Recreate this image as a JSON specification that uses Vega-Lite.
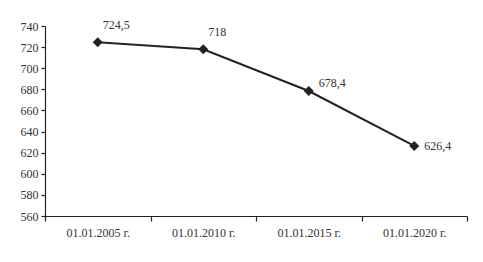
{
  "$schema": "https://vega.github.io/schema/vega-lite/v6.json",
  "width": 422,
  "height": 190,
  "autosize": {"type": "none"},
  "padding": {"left": 45, "top": 26, "right": 16, "bottom": 46},
  "background": "white",
  "config": {
    "view": {"stroke": null},
    "font": "Liberation Serif",
    "axis": {"grid": false, "domainColor": "#222", "tickColor": "#222", "labelColor": "#333", "labelFont": "Liberation Serif", "labelFontSize": 12, "domainWidth": 1.2, "tickWidth": 1.2}
  },
  "data": {
    "values": [
      {"date": "01.01.2005 г.", "value": 724.5, "label": "724,5"},
      {"date": "01.01.2010 г.", "value": 718, "label": "718"},
      {"date": "01.01.2015 г.", "value": 678.4, "label": "678,4"},
      {"date": "01.01.2020 г.", "value": 626.4, "label": "626,4"}
    ]
  },
  "encoding": {
    "x": {"field": "date", "type": "ordinal", "sort": null,
      "scale": {"paddingInner": 0, "paddingOuter": 0},
      "axis": {"title": null, "labelAngle": 0, "tickBand": "extent", "tickSize": 5, "labelPadding": 6}},
    "y": {"field": "value", "type": "quantitative",
      "scale": {"domain": [560, 740], "nice": false, "zero": false},
      "axis": {"title": null, "values": [560,580,600,620,640,660,680,700,720,740], "tickSize": 4, "labelPadding": 3}}
  },
  "layer": [
    {"mark": {"type": "line", "color": "#222", "strokeWidth": 2}},
    {"mark": {"type": "point", "shape": "diamond", "filled": true, "color": "#222", "size": 100, "opacity": 1}},
    {"transform": [{"filter": "datum.value > 700"}],
     "mark": {"type": "text", "align": "left", "baseline": "middle", "dx": 5, "dy": -17, "fontSize": 12, "color": "#333"},
     "encoding": {"text": {"field": "label"}}},
    {"transform": [{"filter": "datum.value > 650 && datum.value < 700"}],
     "mark": {"type": "text", "align": "left", "baseline": "middle", "dx": 10, "dy": -8, "fontSize": 12, "color": "#333"},
     "encoding": {"text": {"field": "label"}}},
    {"transform": [{"filter": "datum.value < 650"}],
     "mark": {"type": "text", "align": "left", "baseline": "middle", "dx": 10, "dy": 0, "fontSize": 12, "color": "#333"},
     "encoding": {"text": {"field": "label"}}}
  ]
}
